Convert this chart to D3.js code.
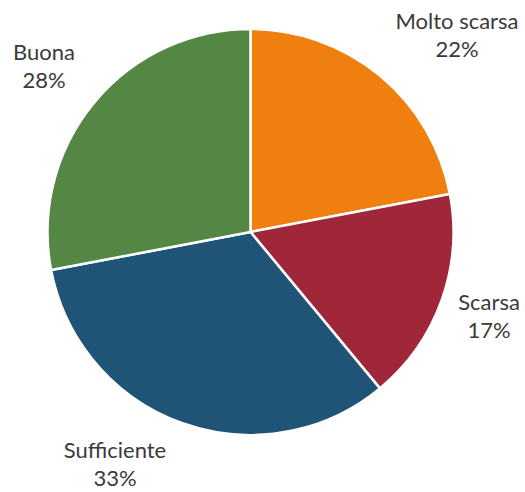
<!DOCTYPE html>
<html>
<head>
<meta charset="utf-8">
<script src="https://cdn.jsdelivr.net/npm/d3@7"></script>
<style>
  html, body { margin: 0; padding: 0; background: #fff; }
  svg { display: block; }
</style>
</head>
<body>
<svg id="chart" width="525" height="492"></svg>
<script>
// Valutazione: quota per categoria (%)
const categories = ["Molto scarsa", "Scarsa", "Sufficiente", "Buona"];
const values = [22, 17, 33, 28];
const colors = ["#EF7F0E", "#A0273A", "#1F5477", "#538743"];
// Etichette: posizione del centro e linea di base della prima riga
const labelAnchors = [
  [457, 29], [489, 310], [115, 458], [44, 60]
];

const W = 525, H = 492;
const cx = 250.5, cy = 232, radius = 203;
const fontFamily = "Lato, 'Open Sans', sans-serif";
const fontSize = 22;
const lineGap = 28;

const svg = d3.select("#chart");
const data = categories.map((c, i) => ({ name: c, value: values[i], color: colors[i], anchor: labelAnchors[i] }));

const pie = d3.pie().value(d => d.value).sort(null);
const arc = d3.arc().innerRadius(0).outerRadius(radius);

const g = svg.append("g").attr("transform", `translate(${cx},${cy})`);
g.selectAll("path.slice")
  .data(pie(data))
  .join("path")
  .attr("class", "slice")
  .attr("d", arc)
  .attr("fill", d => d.data.color)
  .attr("stroke", "#fff")
  .attr("stroke-width", 2.5)
  .attr("stroke-linejoin", "round");

const total = d3.sum(values);
const labels = svg.selectAll("text.lbl")
  .data(data)
  .join("text")
  .attr("class", "lbl")
  .attr("text-anchor", "middle")
  .attr("font-family", fontFamily)
  .attr("font-size", fontSize)
  .attr("fill", "#3a3a3a");

labels.append("tspan")
  .attr("x", d => d.anchor[0])
  .attr("y", d => d.anchor[1])
  .text(d => d.name);
labels.append("tspan")
  .attr("x", d => d.anchor[0])
  .attr("y", d => d.anchor[1] + lineGap)
  .text(d => d3.format(".0%")(d.value / total));
</script>
</body>
</html>
